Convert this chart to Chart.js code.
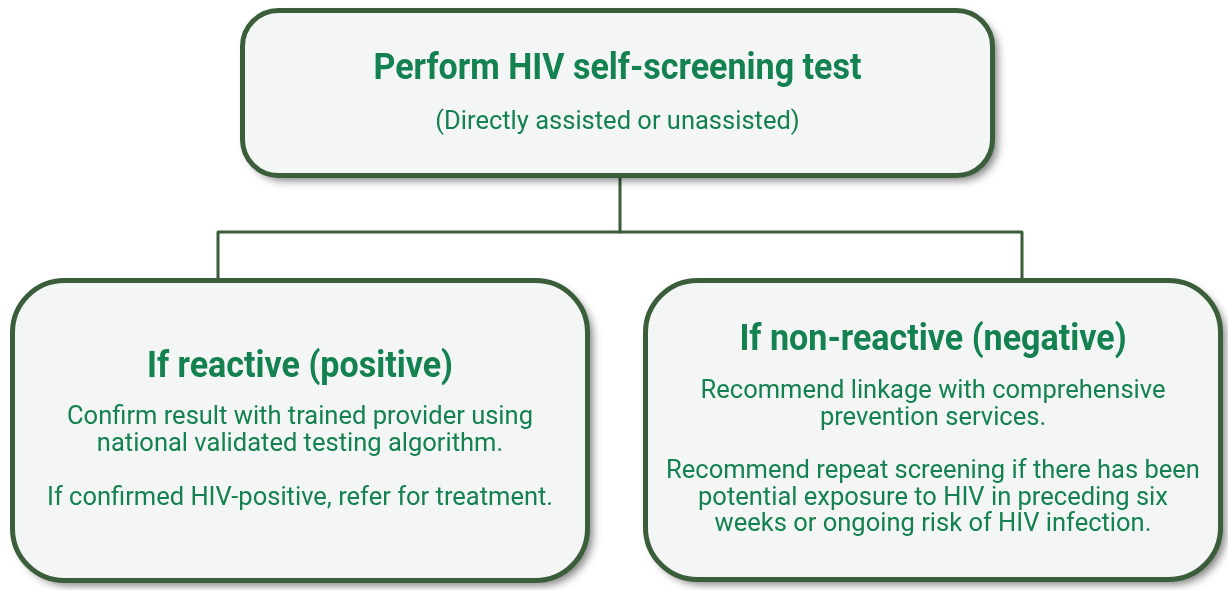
<!DOCTYPE html>
<html><head><meta charset="utf-8">
<script src="https://cdn.jsdelivr.net/npm/chart.js@4"></script>
<style>html,body{margin:0;padding:0;background:#fff;}canvas{display:block;}</style>
</head><body>
<canvas id="c" width="1228" height="590"></canvas>
<script>
// Box extents in diagram units [x0, y0, x1, y1, radius]
const boxNames = ["top", "left", "right"];
const boxLeft = [240, 10, 643];
const boxTop = [8, 278, 278];
const boxRight = [995, 590, 1223];
const boxBottom = [178, 583, 582];
const boxRadius = [36, 52, 52];
// Titles / body text
const boxTitles = ["Perform HIV self-screening test", "If reactive (positive)", "If non-reactive (negative)"];
const titleY = [70, 368, 341];
const bodyLines = [
  ["(Directly assisted or unassisted)"],
  ["Confirm result with trained provider using", "national validated testing algorithm.", "", "If confirmed HIV-positive, refer for treatment."],
  ["Recommend linkage with comprehensive", "prevention services.", "", "Recommend repeat screening if there has been", "potential exposure to HIV in preceding six", "weeks or ongoing risk of HIV infection."]
];
const bodyStartY = [123, 418, 392];
const bodyStep = [27, 27, 26.6];
// Connector paths
const trunkX = [620, 620];
const trunkY = [178, 232];
const branchX = [218, 218, 1022, 1022];
const branchY = [278, 232, 232, 278];

const GREEN = '#3a5e39';
const TEXT = '#138150';
const FILL = '#f4f5f5';
const FONT = '"Liberation Sans Narrow", "Roboto", "Liberation Sans", sans-serif';

const boxPlugin = {
  id: 'boxes',
  afterDatasetsDraw(chart) {
    const ctx = chart.ctx, xs = chart.scales.x, ys = chart.scales.y;
    for (let i = 0; i < boxNames.length; i++) {
      const x0 = xs.getPixelForValue(boxLeft[i]), x1 = xs.getPixelForValue(boxRight[i]);
      const y0 = ys.getPixelForValue(boxTop[i]), y1 = ys.getPixelForValue(boxBottom[i]);
      const bw = 5;
      ctx.save();
      ctx.beginPath();
      ctx.roundRect(x0 + bw/2, y0 + bw/2, x1 - x0 - bw, y1 - y0 - bw, boxRadius[i]);
      ctx.shadowColor = 'rgba(0,0,0,0.5)';
      ctx.shadowBlur = 8;
      ctx.shadowOffsetX = 5;
      ctx.shadowOffsetY = 5;
      ctx.fillStyle = FILL;
      ctx.fill();
      ctx.shadowColor = 'transparent';
      ctx.lineWidth = bw;
      ctx.strokeStyle = GREEN;
      ctx.stroke();
      ctx.restore();

      const cx = (x0 + x1) / 2;
      ctx.save();
      ctx.fillStyle = TEXT;
      ctx.textAlign = 'center';
      ctx.textBaseline = 'middle';
      // condensed bold title
      ctx.save();
      ctx.translate(cx, ys.getPixelForValue(titleY[i]));
      ctx.scale(0.92, 1);
      ctx.font = 'bold 37px ' + FONT;
      ctx.fillText(boxTitles[i], 0, 0);
      ctx.restore();
      ctx.font = '25.5px ' + FONT;
      bodyLines[i].forEach((line, k) => {
        if (line) ctx.fillText(line, cx, ys.getPixelForValue(bodyStartY[i] + k * bodyStep[i]));
      });
      ctx.restore();
    }
  }
};

const toPts = (xa, ya) => xa.map((x, k) => ({x, y: ya[k]}));

new Chart(document.getElementById('c'), {
  type: 'scatter',
  data: {
    datasets: [
      {data: toPts(trunkX, trunkY), showLine: true, borderColor: GREEN, borderWidth: 3, pointRadius: 0, borderJoinStyle: 'round'},
      {data: toPts(branchX, branchY), showLine: true, borderColor: GREEN, borderWidth: 3, pointRadius: 0, borderJoinStyle: 'round'}
    ]
  },
  options: {
    responsive: false,
    animation: false,
    events: [],
    layout: {padding: 0},
    plugins: {legend: {display: false}, tooltip: {enabled: false}},
    scales: {
      x: {type: 'linear', min: 0, max: 1228, display: false},
      y: {type: 'linear', min: 0, max: 590, reverse: true, display: false}
    }
  },
  plugins: [boxPlugin]
});
</script>
</body></html>
